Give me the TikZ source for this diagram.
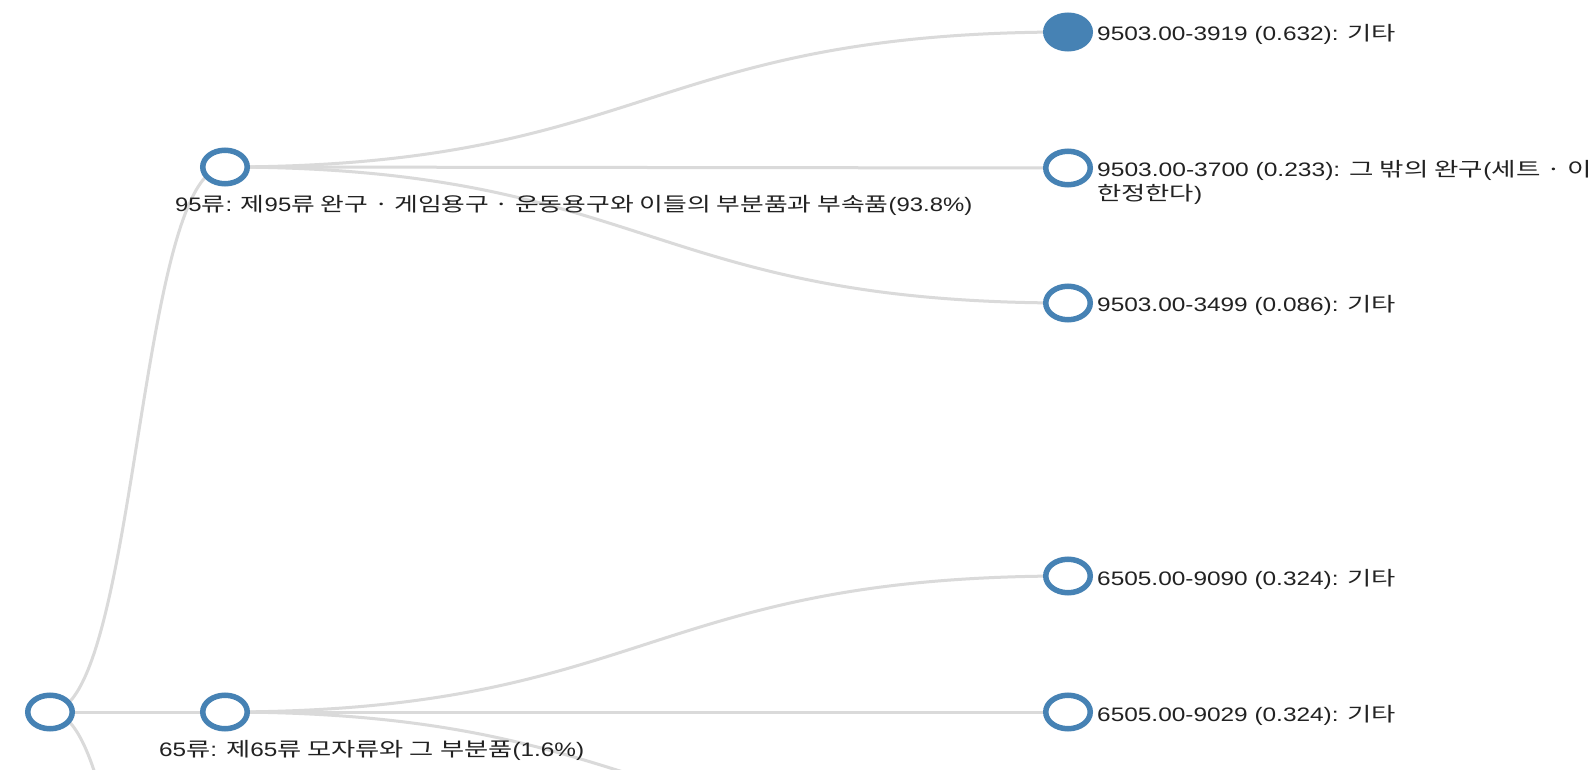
\documentclass[tikz,border=0pt]{standalone}
\usepackage{fontspec}
\setmainfont{Liberation Sans}
\newfontfamily\kr[FakeStretch=1.08]{Noto Sans CJK KR}
\usetikzlibrary{shapes.geometric,backgrounds,calc}
\definecolor{steel}{HTML}{4682B4}
\definecolor{linkgray}{HTML}{DADADA}
\definecolor{txt}{HTML}{222222}
\tikzset{
  nd/.style={ellipse, draw=steel, line width=5.5pt, fill=white, minimum width=44.5pt, minimum height=33.5pt, inner sep=0pt},
  ndfull/.style={nd, fill=steel},
  link/.style={draw=linkgray, line width=3pt, to path={let \p1=(\tikztostart), \p2=(\tikztotarget) in .. controls ({(\x1+\x2)/2},\y1) and ({(\x1+\x2)/2},\y2) .. (\tikztotarget)}},
  lbl/.style={anchor=base west, inner sep=0pt, text=txt, font=\fontsize{19.5}{24}\selectfont},
}
\newcommand{\hs}[1]{\scalebox{1.26}[1]{#1}}
\newcommand{\fw}[2]{\resizebox{#1}{\height}{#2}}
\begin{document}
\begin{tikzpicture}[x=1pt,y=-1pt]
\useasboundingbox (0,0) rectangle (1588,770);
% nodes
\node[nd] (root) at (50,712) {};
\node[nd] (n95) at (225,167) {};
\node[nd] (n65) at (225,712) {};
\node[ndfull] (l1) at (1068,32) {};
\node[nd] (l2) at (1068,168) {};
\node[nd] (l3) at (1068,303) {};
\node[nd] (l4) at (1068,576) {};
\node[nd] (l5) at (1068,712) {};
\coordinate (nB) at (225,1257);
\coordinate (l6) at (1068,847);
% labels
\node[lbl] (t1) at (1097,41) {\fw{299pt}{9503.00-3919 (0.632): {\kr 기타}}};
\node[lbl] (t2) at (1097,177) {\hs{9503.00-3700 (0.233): {\kr 그 밖의 완구}({\kr 세트 · 이}}};
\node[lbl] (t2b) at (1097,201) {\fw{105pt}{{\kr 한정한다})}};
\node[lbl] (t3) at (1097,312) {\fw{299pt}{9503.00-3499 (0.086): {\kr 기타}}};
\node[lbl] (t4) at (1097,585) {\fw{299pt}{6505.00-9090 (0.324): {\kr 기타}}};
\node[lbl] (t5) at (1097,721) {\fw{299pt}{6505.00-9029 (0.324): {\kr 기타}}};
\node[lbl] (tn95) at (175,212) {\fw{797pt}{95{\kr 류}: {\kr 제}95{\kr 류 완구 · 게임용구 · 운동용구와 이들의 부분품과 부속품}(93.8\%)}};
\node[lbl] (tn65) at (159,756) {\fw{425pt}{65{\kr 류}: {\kr 제}65{\kr 류 모자류와 그 부분품}(1.6\%)}};
% links
\begin{pgfonlayer}{background}
\fill[white] (0,0) rectangle (1588,770);
\draw[link] (root.center) to (n95.center);
\draw[link] (root.center) to (n65.center);
\draw[link] (root.center) to (nB);
\draw[link] (n95.center) to (l1.center);
\draw[link] (n95.center) to (l2.center);
\draw[link] (n95.center) to (l3.center);
\draw[link] (n65.center) to (l4.center);
\draw[link] (n65.center) to (l5.center);
\draw[link] (n65.center) to (l6);
\end{pgfonlayer}
\end{tikzpicture}
\end{document}
